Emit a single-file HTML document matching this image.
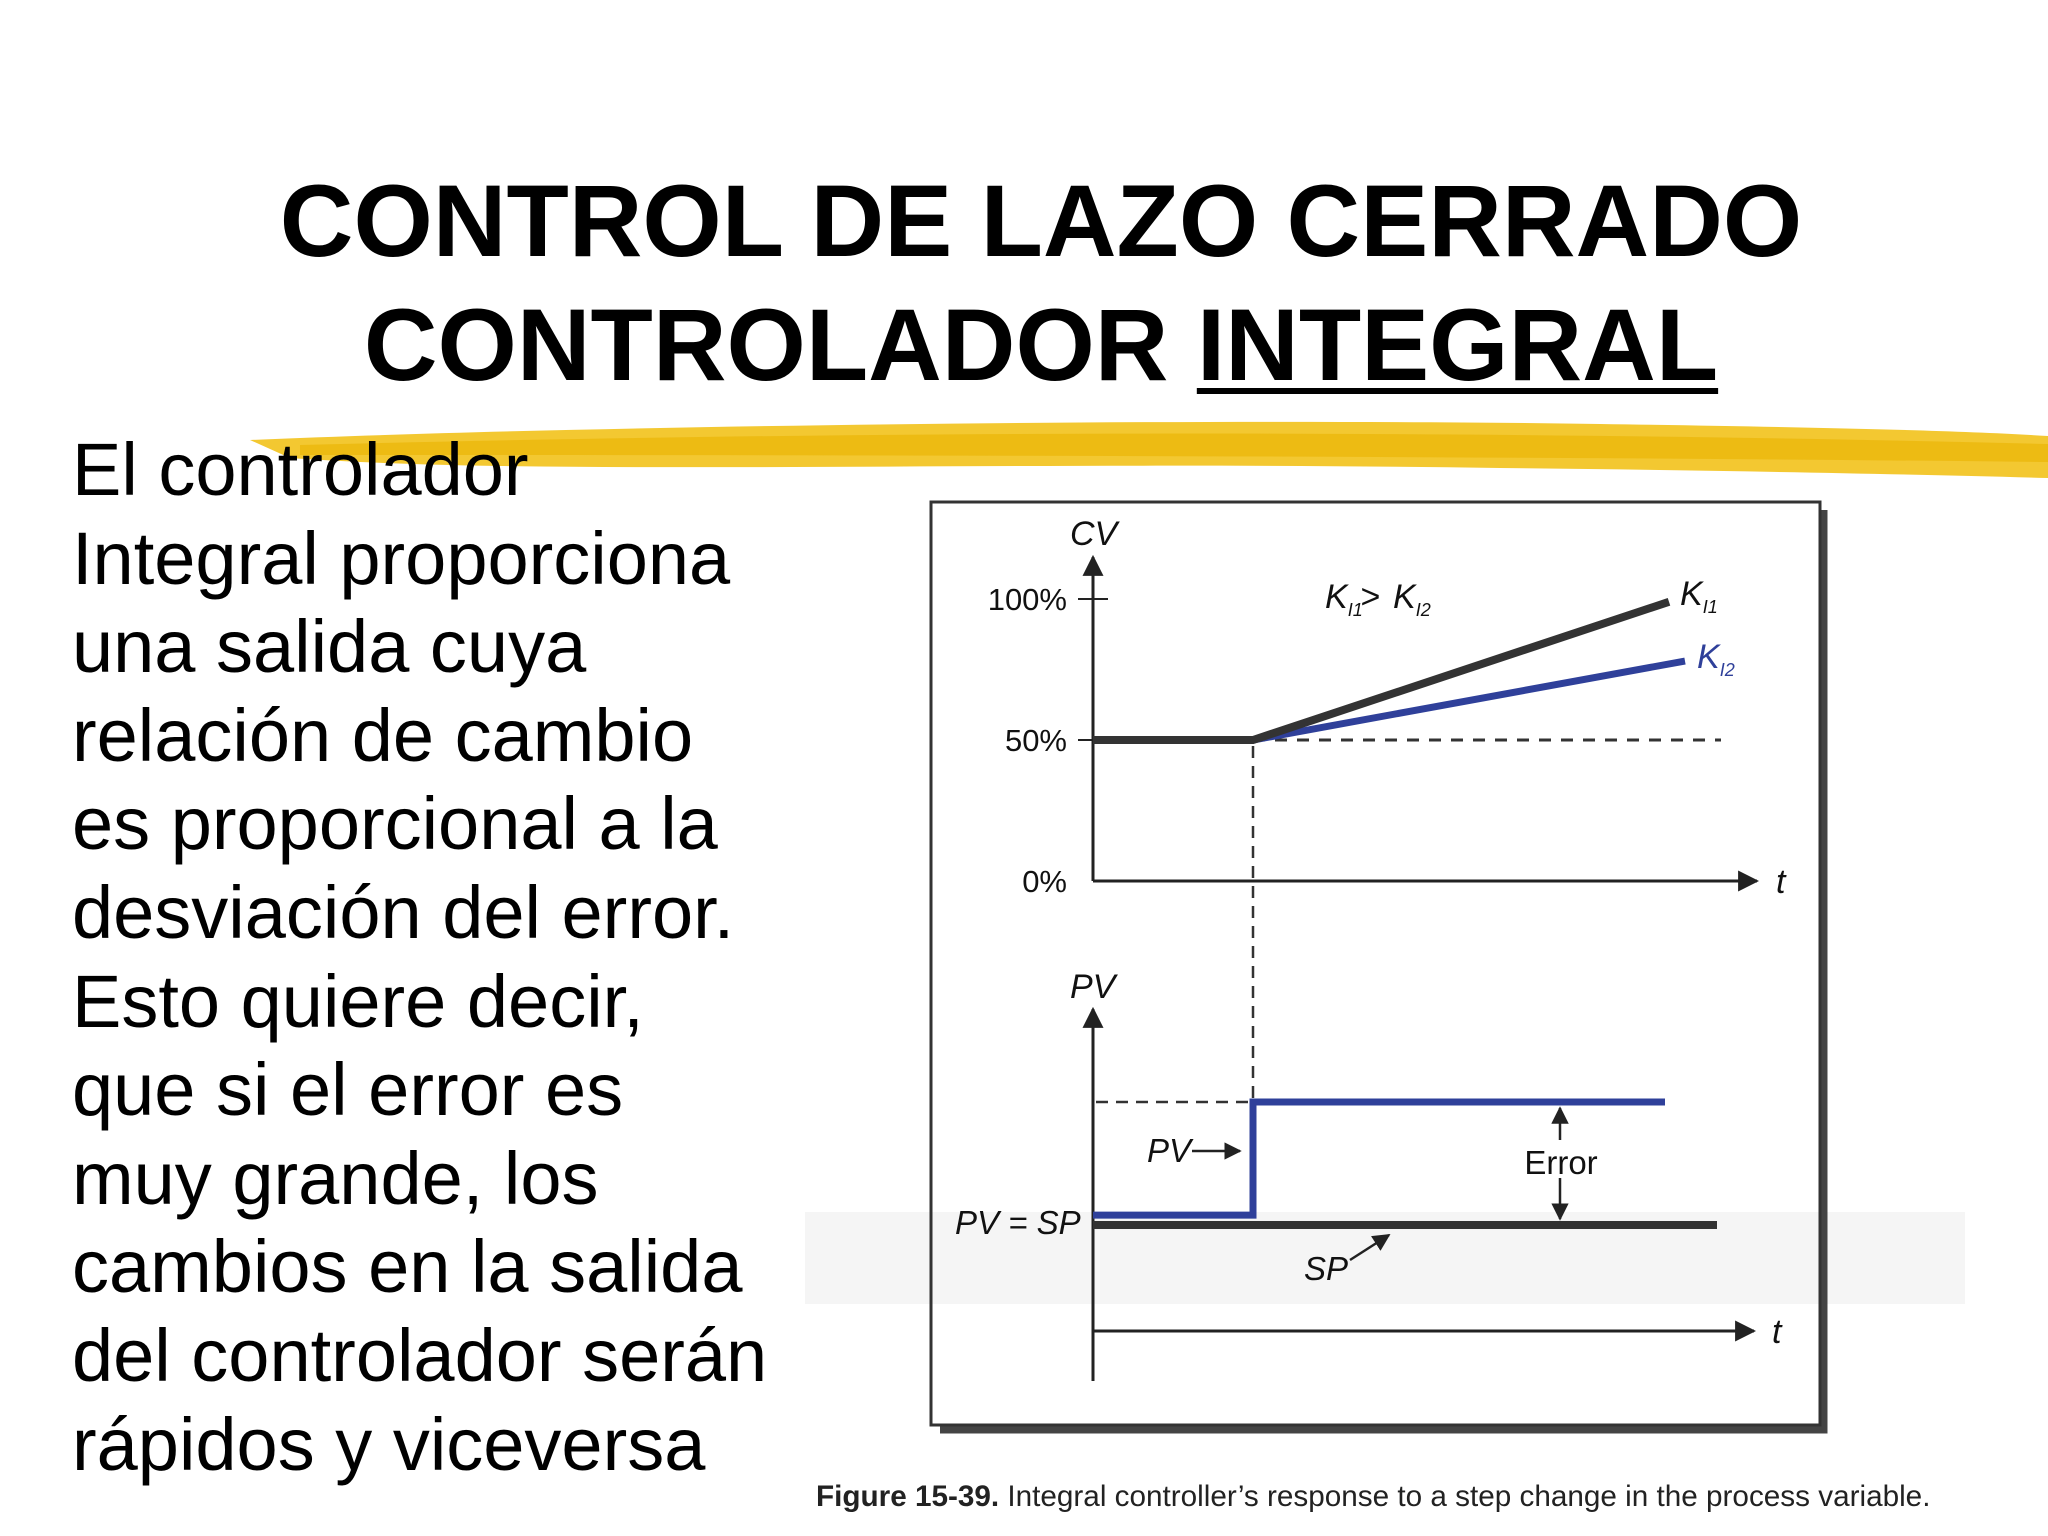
<!DOCTYPE html>
<html><head><meta charset="utf-8">
<style>
html,body{margin:0;padding:0;background:#fff;}
body{width:2048px;height:1536px;position:relative;overflow:hidden;font-family:"Liberation Sans",Arial,sans-serif;}
.title{position:absolute;left:17px;width:2048px;text-align:center;font-weight:bold;font-size:102px;color:#000;line-height:1;}
.body{position:absolute;left:72px;top:426px;font-size:74px;line-height:88.6px;color:#000;}
</style></head>
<body>
<svg width="2048" height="1536" style="position:absolute;left:0;top:0">
  <path d="M250,440 C600,425 1200,418 1600,424 C1800,427 1950,430 2048,436 L2048,478 C1900,474 1700,470 1500,468 C1100,462 800,470 500,466 C420,465 350,462 290,458 Z" fill="#f2c21b" opacity="0.9"/>
  <path d="M300,445 C800,432 1400,428 2048,444 L2048,462 C1500,456 900,455 300,455 Z" fill="#e9b200" opacity="0.6"/>
</svg>
<div class="title" style="top:170px">CONTROL DE LAZO CERRADO</div>
<div class="title" style="top:294px">CONTROLADOR <span style="text-decoration:underline;text-decoration-thickness:6px;text-underline-offset:8px">INTEGRAL</span></div>
<div class="body">El controlador<br>Integral proporciona<br>una salida cuya<br>relación de cambio<br>es proporcional a la<br>desviación del error.<br>Esto quiere decir,<br>que si el error es<br>muy grande, los<br>cambios en la salida<br>del controlador serán<br>rápidos y viceversa</div>

<svg id="chart" width="2048" height="1536" style="position:absolute;left:0;top:0"></svg>
<script>
// data
const cvTicks = [100, 50, 0];
const cvTickLabels = ["100%", "50%", "0%"];
const stepTime = 2;
const cvBase = 50;
const k1End = [7.2, 99];
const k2End = [7.4, 78];
const dashEndTime = 7.85;
const pvLow = 0.08;
const pvHigh = 1;
const spLevel = 0;
const pvEndTime = 7.15;
const spEndTime = 7.8;

const NS = "http://www.w3.org/2000/svg";
const svg = document.getElementById('chart');
const xT = t => 1093 + t * 80;
const yCV = v => 881 - v * 2.82;
const yPV = v => 1225 - v * 123;
function mk(tag, attrs, parent) {
  const e = document.createElementNS(NS, tag);
  for (const k in attrs) e.setAttribute(k, attrs[k]);
  (parent || svg).appendChild(e);
  return e;
}
function txt(x, y, s, size, extra) {
  const e = mk('text', Object.assign({x: x, y: y, 'font-size': size, 'font-family': 'Liberation Sans, Arial, sans-serif', fill: '#111'}, extra || {}));
  e.textContent = s;
  return e;
}
let e;
e = mk('rect', {x: 805, y: 1212, width: 1160, height: 92, fill: '#ececec', opacity: 0.5});


e = mk('polyline', {points: '1824,510 1824,1430 940,1430', fill: 'none', stroke: '#444', 'stroke-width': 7});


e = mk('rect', {x: 931, y: 502, width: 889, height: 923, fill: 'none', stroke: '#333', 'stroke-width': 3});



const defs = mk('defs', {});
const mar = mk('marker', {id: 'ah', viewBox: '0 0 10 10', refX: 9, refY: 5, markerWidth: 7, markerHeight: 7, orient: 'auto-start-reverse'}, defs);
mk('path', {d: 'M0,0 L10,5 L0,10 Z', fill: '#222'}, mar);

e = mk('line', {x1: xT(0), y1: yCV(0), x2: xT(0), y2: 557, stroke: '#222', 'stroke-width': 3, 'marker-end': 'url(#ah)'});


e = mk('line', {x1: xT(0), y1: yCV(0), x2: 1757, y2: yCV(0), stroke: '#222', 'stroke-width': 3, 'marker-end': 'url(#ah)'});


e = txt(1776, yCV(0) + 12, 't', 34, {'font-style': 'italic'});


e = txt(1070, 545, 'CV', 34, {'font-style': 'italic'});


cvTicks.forEach((v, i) => {
  if (v > 0) {
    const t = mk('line', {x1: 1078, x2: 1108, y1: yCV(v), y2: yCV(v), stroke: '#222', 'stroke-width': 2});
    
    
  }
  const l = txt(1067, yCV(v) + 11, cvTickLabels[i], 31, {'text-anchor': 'end'});
  
  
});
e = mk('line', {x1: xT(stepTime), y1: yCV(cvBase), x2: xT(dashEndTime), y2: yCV(cvBase), stroke: '#333', 'stroke-width': 3, 'stroke-dasharray': '12 10'});


e = mk('line', {x1: xT(stepTime), y1: yCV(cvBase) + 6, x2: xT(stepTime), y2: yPV(pvHigh), stroke: '#333', 'stroke-width': 2.5, 'stroke-dasharray': '12 8'});


e = mk('polyline', {points: `${xT(stepTime)},${yCV(cvBase)} ${xT(k2End[0])},${yCV(k2End[1])}`, fill: 'none', stroke: '#2f409a', 'stroke-width': 7});


e = mk('polyline', {points: `${xT(0)},${yCV(cvBase)} ${xT(stepTime)},${yCV(cvBase)} ${xT(k1End[0])},${yCV(k1End[1])}`, fill: 'none', stroke: '#333', 'stroke-width': 8});


function kLabel(x, y, sub, col, name) {
  const g = mk('text', {x: x, y: y, 'font-size': 34, 'font-style': 'italic', fill: col, 'font-family': 'Liberation Sans, Arial, sans-serif'});
  g.innerHTML = 'K<tspan font-size="18" dy="8">' + sub + '</tspan>';
  
  
  return g;
}
kLabel(1325, 608, 'I1', '#111', 'k1-label');
kLabel(1360, 608, '', '#111', 'gt-sign').innerHTML = '&gt;';
kLabel(1393, 608, 'I2', '#111', 'k2-compare-label');
kLabel(1680, 605, 'I1', '#111', 'k1-end-label');
kLabel(1697, 668, 'I2', '#2f409a', 'k2-end-label');

e = mk('line', {x1: xT(0), y1: 1381, x2: xT(0), y2: 1009, stroke: '#222', 'stroke-width': 3, 'marker-end': 'url(#ah)'});


e = mk('line', {x1: xT(0), y1: 1331, x2: 1754, y2: 1331, stroke: '#222', 'stroke-width': 3, 'marker-end': 'url(#ah)'});


e = txt(1772, 1343, 't', 34, {'font-style': 'italic'});


e = txt(1070, 998, 'PV', 34, {'font-style': 'italic'});


e = mk('line', {x1: 1096, y1: yPV(pvHigh), x2: xT(stepTime), y2: yPV(pvHigh), stroke: '#333', 'stroke-width': 2.5, 'stroke-dasharray': '12 8'});


e = mk('line', {x1: xT(0), y1: yPV(spLevel), x2: xT(spEndTime), y2: yPV(spLevel), stroke: '#333', 'stroke-width': 8});


e = mk('polyline', {points: `${xT(0)},${yPV(pvLow)} ${xT(stepTime)},${yPV(pvLow)} ${xT(stepTime)},${yPV(pvHigh)} ${xT(pvEndTime)},${yPV(pvHigh)}`, fill: 'none', stroke: '#2f409a', 'stroke-width': 7});


e = mk('line', {x1: 1560, y1: 1140, x2: 1560, y2: yPV(pvHigh) + 6, stroke: '#222', 'stroke-width': 2.5, 'marker-end': 'url(#ah)'});


e = mk('line', {x1: 1560, y1: 1178, x2: 1560, y2: yPV(spLevel) - 6, stroke: '#222', 'stroke-width': 2.5, 'marker-end': 'url(#ah)'});


e = txt(1561, 1174, 'Error', 33, {'text-anchor': 'middle'});


e = txt(1147, 1162, 'PV', 33, {'font-style': 'italic'});


e = mk('line', {x1: 1192, y1: 1151, x2: 1240, y2: 1151, stroke: '#222', 'stroke-width': 2.5, 'marker-end': 'url(#ah)'});


e = txt(955, 1234, 'PV = SP', 33, {'font-style': 'italic'});


e = txt(1304, 1280, 'SP', 33, {'font-style': 'italic'});


e = mk('line', {x1: 1350, y1: 1260, x2: 1389, y2: 1235, stroke: '#222', 'stroke-width': 2.5, 'marker-end': 'url(#ah)'});


e = mk('text', {x: 816, y: 1506, 'font-size': 29.7, fill: '#222', 'font-family': 'Liberation Sans, Arial, sans-serif'});
e.innerHTML = '<tspan font-weight="bold">Figure 15-39.</tspan> Integral controller\u2019s response to a step change in the process variable.';


</script>
</body></html>
